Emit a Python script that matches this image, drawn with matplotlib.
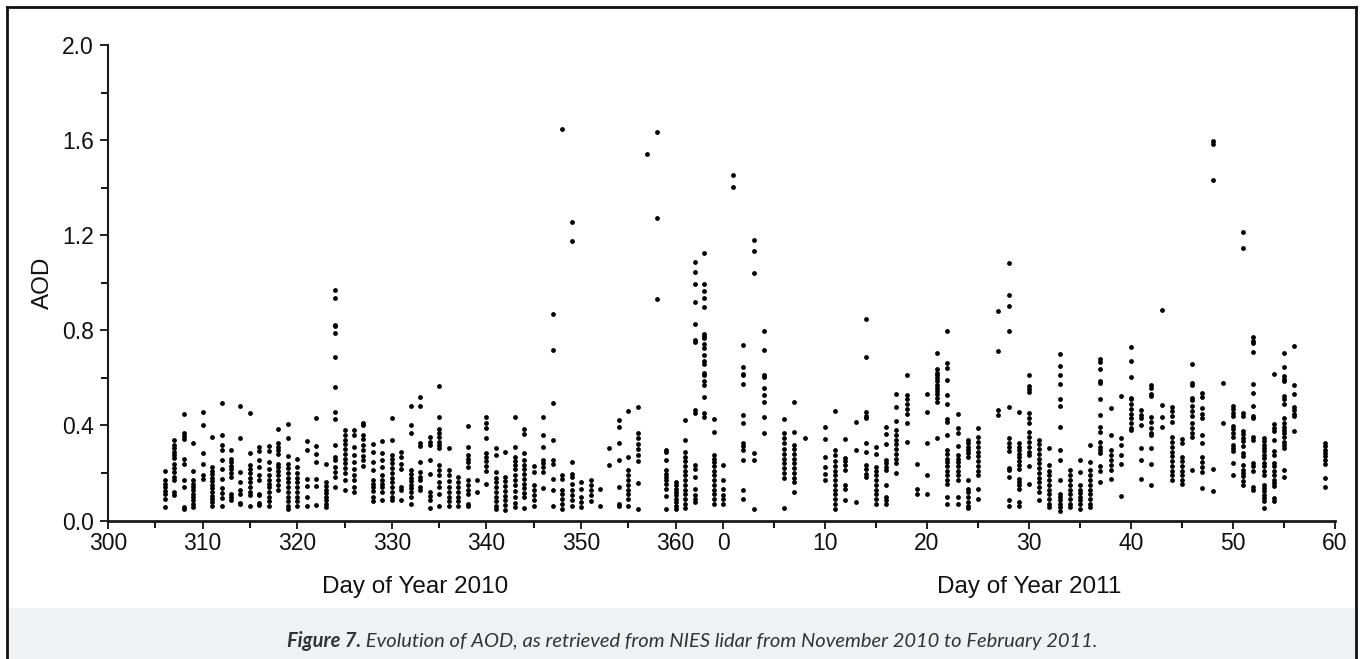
import matplotlib
matplotlib.use("Agg")
import matplotlib.pyplot as plt
from matplotlib.ticker import MultipleLocator, FixedLocator, FormatStrFormatter
from matplotlib.patches import Rectangle
from matplotlib.lines import Line2D

# ---------------- data ----------------
days_2010 = [306, 307, 308, 309, 310, 311, 312, 313, 314, 315, 316, 317, 318, 319,
             320, 321, 322, 323, 324, 325, 326, 327, 328, 329, 330, 331, 332, 333,
             334, 335, 336, 337, 338, 339, 340, 341, 342, 343, 344, 345, 346, 347,
             348, 349, 350, 351, 352, 353, 354, 355, 356, 357, 358, 359, 360, 361,
             362, 363, 364]
aod_2010 = [
    [0.21, 0.17, 0.155, 0.14, 0.123, 0.113, 0.089, 0.056],
    [0.338, 0.317, 0.303, 0.289, 0.275, 0.261, 0.239, 0.222, 0.204, 0.183, 0.169, 0.12, 0.106],
    [0.446, 0.366, 0.355, 0.341, 0.258, 0.239, 0.172, 0.141, 0.056, 0.049],
    [0.324, 0.208, 0.17, 0.155, 0.141, 0.127, 0.113, 0.099, 0.085, 0.07, 0.056],
    [0.458, 0.401, 0.286, 0.239, 0.19, 0.173],
    [0.352, 0.225, 0.21, 0.195, 0.18, 0.165, 0.15, 0.135, 0.12, 0.105, 0.09, 0.077, 0.059],
    [0.495, 0.359, 0.317, 0.296, 0.256, 0.218, 0.176, 0.138, 0.115, 0.096, 0.059],
    [0.296, 0.26, 0.245, 0.23, 0.215, 0.2, 0.185, 0.113, 0.1, 0.085],
    [0.48, 0.345, 0.204, 0.162, 0.127, 0.113, 0.073, 0.068],
    [0.454, 0.285, 0.232, 0.218, 0.2, 0.18, 0.16, 0.14, 0.12, 0.106, 0.059],
    [0.31, 0.293, 0.254, 0.223, 0.19, 0.169, 0.113, 0.106, 0.073, 0.066],
    [0.313, 0.293, 0.246, 0.218, 0.19, 0.17, 0.155, 0.14, 0.12, 0.1, 0.08, 0.063],
    [0.383, 0.327, 0.31, 0.296, 0.279, 0.239, 0.225, 0.21, 0.19, 0.17, 0.15, 0.127],
    [0.404, 0.345, 0.27, 0.239, 0.22, 0.2, 0.18, 0.16, 0.14, 0.12, 0.1, 0.08, 0.06, 0.049],
    [0.26, 0.225, 0.2, 0.18, 0.16, 0.14, 0.12, 0.1, 0.08, 0.06],
    [0.334, 0.296, 0.176, 0.144, 0.099, 0.063],
    [0.432, 0.313, 0.279, 0.246, 0.173, 0.144, 0.066],
    [0.239, 0.162, 0.145, 0.13, 0.115, 0.1, 0.085, 0.07, 0.055],
    [0.969, 0.935, 0.821, 0.816, 0.788, 0.688, 0.561, 0.458, 0.427, 0.317, 0.268, 0.254,
     0.225, 0.204, 0.183, 0.141],
    [0.38, 0.36, 0.34, 0.32, 0.3, 0.28, 0.26, 0.24, 0.22, 0.2, 0.169, 0.127],
    [0.38, 0.359, 0.31, 0.275, 0.246, 0.218, 0.19, 0.169, 0.141, 0.12],
    [0.411, 0.401, 0.359, 0.341, 0.317, 0.296, 0.27, 0.254, 0.228],
    [0.321, 0.289, 0.246, 0.211, 0.172, 0.155, 0.14, 0.125, 0.099, 0.082],
    [0.334, 0.285, 0.254, 0.223, 0.19, 0.172, 0.155, 0.141, 0.12, 0.085],
    [0.432, 0.338, 0.275, 0.26, 0.24, 0.22, 0.2, 0.18, 0.16, 0.14, 0.12, 0.1, 0.085],
    [0.289, 0.265, 0.239, 0.218, 0.141, 0.127, 0.085],
    [0.482, 0.401, 0.369, 0.211, 0.195, 0.18, 0.165, 0.15, 0.135, 0.12, 0.1, 0.068],
    [0.519, 0.482, 0.324, 0.313, 0.246, 0.204, 0.183, 0.169, 0.141, 0.127],
    [0.352, 0.331, 0.317, 0.256, 0.197, 0.12, 0.101, 0.085, 0.054],
    [0.565, 0.437, 0.383, 0.366, 0.352, 0.331, 0.317, 0.303, 0.232, 0.214, 0.19, 0.162,
     0.141, 0.113, 0.059],
    [0.303, 0.211, 0.19, 0.165, 0.14, 0.12, 0.1, 0.08, 0.062],
    [0.183, 0.16, 0.14, 0.12, 0.1, 0.08, 0.06],
    [0.397, 0.31, 0.275, 0.26, 0.245, 0.225, 0.169, 0.15, 0.13, 0.11, 0.07, 0.06],
    [0.169, 0.12],
    [0.434, 0.41, 0.39, 0.345, 0.282, 0.265, 0.25, 0.23, 0.21, 0.152],
    [0.303, 0.275, 0.204, 0.18, 0.16, 0.14, 0.12, 0.1, 0.08, 0.06, 0.049],
    [0.289, 0.183, 0.165, 0.145, 0.125, 0.105, 0.085, 0.065, 0.045],
    [0.437, 0.31, 0.265, 0.25, 0.235, 0.215, 0.19, 0.17, 0.15, 0.125, 0.1, 0.075, 0.055],
    [0.383, 0.363, 0.285, 0.254, 0.235, 0.215, 0.195, 0.175, 0.155, 0.135, 0.115, 0.1, 0.052],
    [0.228, 0.204, 0.148, 0.127, 0.106, 0.085, 0.063],
    [0.437, 0.359, 0.31, 0.256, 0.24, 0.225, 0.204, 0.138],
    [0.868, 0.716, 0.496, 0.338, 0.254, 0.239, 0.176, 0.127, 0.059],
    [1.646, 0.19, 0.176, 0.127, 0.11, 0.09, 0.07, 0.05],
    [1.254, 1.174, 0.246, 0.197, 0.183, 0.155, 0.127, 0.106, 0.085, 0.059],
    [0.162, 0.134, 0.099, 0.077, 0.056],
    [0.169, 0.148, 0.127, 0.106, 0.082],
    [0.134, 0.059],
    [0.303, 0.232],
    [0.423, 0.394, 0.327, 0.254, 0.141, 0.068, 0.059],
    [0.462, 0.265, 0.211, 0.19, 0.17, 0.15, 0.13, 0.11, 0.09, 0.063],
    [0.476, 0.366, 0.345, 0.32, 0.3, 0.275, 0.25, 0.158, 0.049],
    [1.54],
    [1.633, 1.274, 0.931],
    [0.296, 0.289, 0.254, 0.214, 0.197, 0.183, 0.169, 0.155, 0.134, 0.103, 0.049],
    [0.162, 0.148, 0.134, 0.12, 0.106, 0.092, 0.077, 0.063, 0.049],
    [0.423, 0.338, 0.289, 0.268, 0.25, 0.23, 0.21, 0.19, 0.17, 0.15, 0.13, 0.11, 0.09,
     0.07, 0.052],
    [1.086, 1.044, 0.993, 0.917, 0.828, 0.758, 0.752, 0.465, 0.451, 0.232, 0.218, 0.183,
     0.134, 0.106, 0.092, 0.077],
    [1.124, 0.993, 0.966, 0.934, 0.9, 0.783, 0.775, 0.766, 0.744, 0.724, 0.696, 0.671,
     0.657, 0.621, 0.611, 0.586, 0.569, 0.521, 0.454, 0.437],
    [0.425, 0.373, 0.275, 0.26, 0.245, 0.23, 0.21, 0.19, 0.17, 0.15, 0.13, 0.11, 0.09, 0.07],
]

days_2011 = [0, 1, 2, 3, 4, 6, 7, 8, 10, 11, 12, 13, 14, 15, 16, 17, 18, 19, 20, 21,
             22, 23, 24, 25, 27, 28, 29, 30, 31, 32, 33, 34, 35, 36, 37, 38, 39, 40,
             41, 42, 43, 44, 45, 46, 47, 48, 49, 50, 51, 52, 53, 54, 55, 56, 59]
aod_2011 = [
    [0.232, 0.169, 0.134, 0.106, 0.092, 0.068],
    [1.453, 1.402],
    [0.737, 0.646, 0.617, 0.612, 0.575, 0.444, 0.408, 0.324, 0.313, 0.296, 0.254, 0.127, 0.089],
    [1.18, 1.132, 1.043, 0.285, 0.254, 0.049],
    [0.797, 0.717, 0.612, 0.603, 0.558, 0.526, 0.5, 0.437, 0.369],
    [0.425, 0.366, 0.345, 0.325, 0.3, 0.28, 0.26, 0.24, 0.22, 0.2, 0.18, 0.054],
    [0.5, 0.373, 0.317, 0.3, 0.28, 0.26, 0.24, 0.22, 0.2, 0.18, 0.16, 0.12],
    [0.348],
    [0.392, 0.342, 0.265, 0.225, 0.197, 0.169],
    [0.461, 0.296, 0.275, 0.25, 0.23, 0.21, 0.19, 0.17, 0.15, 0.13, 0.11, 0.09, 0.07, 0.05],
    [0.342, 0.261, 0.25, 0.232, 0.211, 0.148, 0.134, 0.085],
    [0.415, 0.296, 0.077],
    [0.847, 0.688, 0.458, 0.44, 0.43, 0.324, 0.289, 0.232, 0.218, 0.197, 0.183],
    [0.31, 0.279, 0.225, 0.21, 0.19, 0.17, 0.15, 0.13, 0.11, 0.09, 0.07],
    [0.394, 0.363, 0.321, 0.254, 0.24, 0.225, 0.211, 0.148, 0.099, 0.085, 0.07],
    [0.53, 0.479, 0.42, 0.38, 0.36, 0.34, 0.32, 0.3, 0.28, 0.26, 0.24, 0.2],
    [0.61, 0.528, 0.51, 0.49, 0.47, 0.45, 0.41, 0.331],
    [0.239, 0.134, 0.113],
    [0.53, 0.458, 0.324, 0.19, 0.11],
    [0.703, 0.636, 0.622, 0.612, 0.6, 0.586, 0.572, 0.558, 0.544, 0.53, 0.516, 0.5, 0.349],
    [0.797, 0.664, 0.64, 0.589, 0.528, 0.49, 0.425, 0.415, 0.359, 0.296, 0.28, 0.26,
     0.245, 0.23, 0.21, 0.19, 0.17, 0.155, 0.099, 0.068],
    [0.446, 0.387, 0.366, 0.314, 0.275, 0.26, 0.245, 0.23, 0.21, 0.19, 0.17, 0.099, 0.07],
    [0.338, 0.324, 0.31, 0.296, 0.282, 0.268, 0.172, 0.134, 0.12, 0.1, 0.077, 0.063, 0.052],
    [0.387, 0.352, 0.33, 0.31, 0.29, 0.27, 0.25, 0.23, 0.21, 0.19, 0.134, 0.092],
    [0.882, 0.713, 0.465, 0.444],
    [1.083, 0.947, 0.904, 0.795, 0.476, 0.345, 0.324, 0.31, 0.293, 0.222, 0.211, 0.183,
     0.085, 0.063],
    [0.458, 0.324, 0.31, 0.295, 0.28, 0.265, 0.25, 0.235, 0.218, 0.176, 0.162, 0.148,
     0.134, 0.077, 0.063],
    [0.612, 0.565, 0.551, 0.541, 0.451, 0.43, 0.41, 0.373, 0.35, 0.33, 0.31, 0.29, 0.275,
     0.228, 0.152],
    [0.338, 0.32, 0.3, 0.28, 0.26, 0.24, 0.22, 0.2, 0.18, 0.16, 0.14, 0.12, 0.085],
    [0.303, 0.232, 0.21, 0.19, 0.17, 0.15, 0.13, 0.11, 0.09, 0.07, 0.056],
    [0.699, 0.648, 0.612, 0.575, 0.509, 0.48, 0.394, 0.296, 0.254, 0.169, 0.113, 0.1,
     0.085, 0.07, 0.056, 0.042],
    [0.211, 0.19, 0.17, 0.15, 0.13, 0.11, 0.09, 0.07, 0.056],
    [0.256, 0.204, 0.148, 0.13, 0.115, 0.1, 0.085, 0.07, 0.05],
    [0.317, 0.246, 0.211, 0.19, 0.17, 0.15, 0.13, 0.11, 0.09, 0.07, 0.056],
    [0.678, 0.668, 0.636, 0.586, 0.579, 0.509, 0.444, 0.394, 0.373, 0.331, 0.31, 0.296,
     0.282, 0.228, 0.208, 0.162],
    [0.472, 0.359, 0.296, 0.275, 0.254, 0.232, 0.211, 0.176],
    [0.523, 0.345, 0.317, 0.275, 0.239, 0.101],
    [0.731, 0.671, 0.605, 0.516, 0.51, 0.49, 0.47, 0.45, 0.43, 0.41, 0.39, 0.38],
    [0.465, 0.444, 0.43, 0.4, 0.303, 0.256, 0.176],
    [0.57, 0.558, 0.533, 0.523, 0.437, 0.415, 0.39, 0.37, 0.359, 0.303, 0.239, 0.148],
    [0.886, 0.486, 0.437, 0.394],
    [0.476, 0.46, 0.44, 0.415, 0.352, 0.33, 0.31, 0.29, 0.27, 0.25, 0.23, 0.21, 0.19, 0.17],
    [0.341, 0.324, 0.268, 0.25, 0.23, 0.21, 0.19, 0.17, 0.155],
    [0.657, 0.579, 0.569, 0.516, 0.507, 0.48, 0.46, 0.44, 0.41, 0.39, 0.37, 0.35, 0.211],
    [0.537, 0.519, 0.472, 0.45, 0.43, 0.359, 0.324, 0.265, 0.245, 0.225, 0.204, 0.138],
    [1.596, 1.582, 1.434, 0.218, 0.124],
    [0.58, 0.411],
    [0.481, 0.467, 0.453, 0.439, 0.397, 0.383, 0.369, 0.35, 0.319, 0.305, 0.291, 0.242, 0.193],
    [1.215, 1.148, 0.453, 0.439, 0.376, 0.362, 0.348, 0.334, 0.313, 0.284, 0.27, 0.235,
     0.214, 0.2, 0.186, 0.165, 0.148],
    [0.77, 0.756, 0.746, 0.71, 0.575, 0.537, 0.481, 0.439, 0.432, 0.35, 0.34, 0.242, 0.228,
     0.207, 0.143, 0.129],
    [0.347, 0.333, 0.319, 0.305, 0.291, 0.277, 0.263, 0.242, 0.228, 0.207, 0.193, 0.151,
     0.137, 0.123, 0.109, 0.095, 0.08, 0.052],
    [0.615, 0.404, 0.39, 0.376, 0.34, 0.291, 0.277, 0.242, 0.228, 0.207, 0.193, 0.172,
     0.158, 0.144, 0.095, 0.08],
    [0.706, 0.645, 0.607, 0.594, 0.587, 0.523, 0.509, 0.491, 0.432, 0.41, 0.395, 0.38,
     0.366, 0.352, 0.33, 0.319, 0.305, 0.214, 0.181],
    [0.734, 0.57, 0.533, 0.477, 0.463, 0.449, 0.439, 0.376],
    [0.326, 0.312, 0.298, 0.284, 0.27, 0.256, 0.236, 0.178, 0.139],
]

xticks_2010 = [300, 310, 320, 330, 340, 350, 360]
xticks_2011 = [0, 10, 20, 30, 40, 50, 60]
yticks = [0.0, 0.4, 0.8, 1.2, 1.6, 2.0]
xlabel_2010 = "Day of Year 2010"
xlabel_2011 = "Day of Year 2011"
ylabel = "AOD"
caption_bold = "Figure 7."
caption_rest = " Evolution of AOD, as retrieved from NIES lidar from November 2010 to February 2011."

# ---------------- layout ----------------
W, H = 1362, 659
fig = plt.figure(figsize=(W / 100, H / 100), dpi=100)
fig.patch.set_facecolor("white")

def fx(px):
    return px / W

def fy(py):
    return 1 - py / H

FONT = "Liberation Sans"
TICK_SIZE = 16.5
LABEL_SIZE = 17.5

left_px, mid_px, right_px = 108, 723, 1335
top_px, bot_px = 45, 520.5
h = (bot_px - top_px) / H
ax1 = fig.add_axes([fx(left_px), fy(bot_px), (mid_px - left_px) / W, h])
ax2 = fig.add_axes([fx(mid_px), fy(bot_px), (right_px - mid_px) / W, h])

def flatten(days, vals):
    xs, ys = [], []
    for d, vs in zip(days, vals):
        xs.extend([d] * len(vs))
        ys.extend(vs)
    return xs, ys

x1, y1 = flatten(days_2010, aod_2010)
x2, y2 = flatten(days_2011, aod_2011)
ax1.scatter(x1, y1, s=12, c="black", linewidths=0, zorder=3, clip_on=False)
ax2.scatter(x2, y2, s=12, c="black", linewidths=0, zorder=3, clip_on=False)

for ax in (ax1, ax2):
    ax.set_ylim(0, 2.0)
    ax.spines["top"].set_visible(False)
    ax.spines["right"].set_visible(False)
    ax.spines["bottom"].set_linewidth(2.0)
    ax.spines["bottom"].set_color("#1a1a1a")
    ax.tick_params(axis="x", which="major", direction="out", length=6, width=1.3,
                   pad=2.5, colors="#111111")
    ax.tick_params(axis="x", which="minor", direction="out", length=5, width=1.3)

ax1.set_xlim(300, 365)
ax1.xaxis.set_major_locator(FixedLocator(xticks_2010))
ax1.xaxis.set_minor_locator(FixedLocator([305, 315, 325, 335, 345, 355]))
ax1.set_xticklabels([str(t) for t in xticks_2010], fontfamily=FONT, fontsize=TICK_SIZE)

ax2.set_xlim(0, 60)
ax2.xaxis.set_major_locator(FixedLocator(xticks_2011))
ax2.xaxis.set_minor_locator(FixedLocator([5, 15, 25, 35, 45, 55]))
ax2.set_xticklabels([str(t) for t in xticks_2011], fontfamily=FONT, fontsize=TICK_SIZE)
ax2.spines["left"].set_visible(False)
ax2.tick_params(axis="y", which="both", left=False, labelleft=False)

ax1.spines["left"].set_linewidth(1.5)
ax1.spines["left"].set_color("#1a1a1a")
ax1.yaxis.set_major_locator(FixedLocator(yticks))
ax1.yaxis.set_minor_locator(MultipleLocator(0.2))
ax1.set_yticklabels(["%.1f" % t for t in yticks], fontfamily=FONT, fontsize=TICK_SIZE)
ax1.tick_params(axis="y", which="major", direction="out", length=6, width=1.3, pad=4,
                colors="#111111")
ax1.tick_params(axis="y", which="minor", direction="out", length=5, width=1.3)

ax1.set_xlabel(xlabel_2010, fontfamily=FONT, fontsize=LABEL_SIZE, labelpad=15,
               color="#111111")
ax2.set_xlabel(xlabel_2011, fontfamily=FONT, fontsize=LABEL_SIZE, labelpad=15,
               color="#111111")
ax1.set_ylabel(ylabel, fontfamily=FONT, fontsize=LABEL_SIZE, labelpad=6,
               color="#111111")

# ---------------- frame & caption ----------------
fig.patches.append(Rectangle((fx(8), 0), fx(1355) - fx(8), fy(608), transform=fig.transFigure,
                             facecolor="#f0f1f3", edgecolor="none", zorder=0))
lw = 2.0
fig.add_artist(Line2D([fx(7), fx(7)], [0, fy(7)], color="#111111", lw=lw))
fig.add_artist(Line2D([fx(1356), fx(1356)], [0, fy(7)], color="#111111", lw=lw))
fig.add_artist(Line2D([fx(7), fx(1356)], [fy(7), fy(7)], color="#111111", lw=lw))

cap_y = fy(641)
t1 = fig.text(0, cap_y, caption_bold, fontfamily="Lato", fontstyle="italic",
              fontweight="bold", fontsize=14.5, color="#333333", va="center")
t2 = fig.text(0, cap_y, caption_rest, fontfamily="Lato", fontstyle="italic",
              fontsize=14.5, color="#333333", va="center")
fig.canvas.draw()
r = fig.canvas.get_renderer()
w1 = t1.get_window_extent(r).width
w2 = t2.get_window_extent(r).width
start = 692 - (w1 + w2) / 2
t1.set_x(start / W)
t2.set_x((start + w1) / W)

fig.savefig("out.png", dpi=100)
